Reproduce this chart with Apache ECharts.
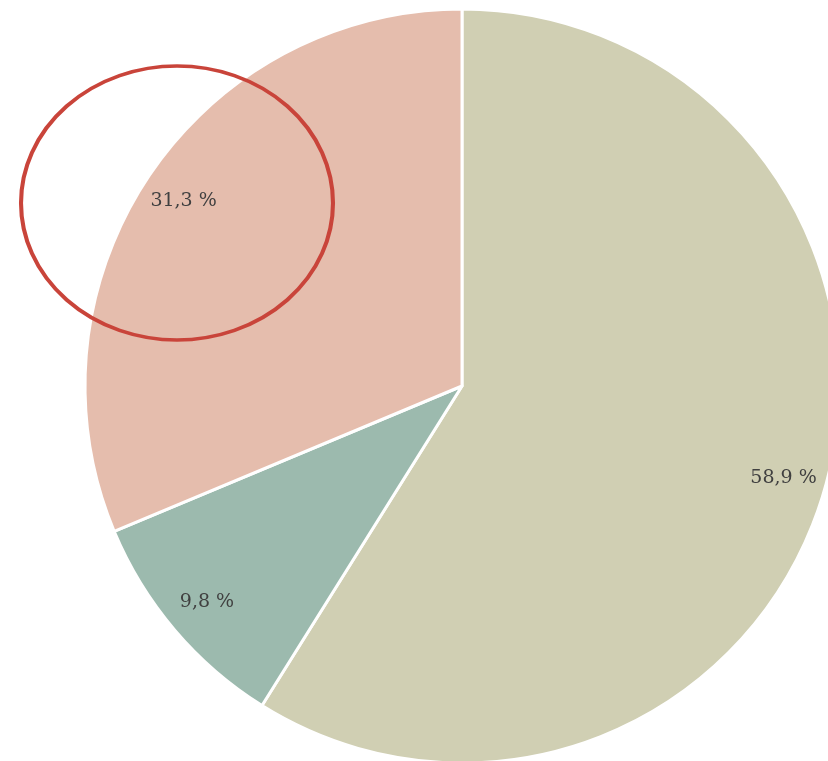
<!DOCTYPE html>
<html>
<head>
<meta charset="utf-8">
<script src="https://cdn.jsdelivr.net/npm/echarts@6/dist/echarts.min.js"></script>
<style>
  html, body { margin: 0; padding: 0; background: #fff; }
  #main { width: 828px; height: 761px; }
</style>
</head>
<body>
<div id="main"></div>
<script>
// slice data, clockwise from 12 o'clock
var sliceNames = ['A', 'B', 'C'];
var sliceValues = [58.9, 9.8, 31.3];
var sliceLabels = ['58,9 %', '9,8 %', '31,3 %'];
var sliceColors = ['#d0cfb3', '#9cbaae', '#e5bdad'];

var chart = echarts.init(document.getElementById('main'));

var pieData = sliceValues.map(function (v, i) {
  return { name: sliceNames[i], value: v, itemStyle: { color: sliceColors[i] } };
});
var labelData = sliceValues.map(function (v, i) {
  return { name: sliceNames[i], value: v, label: { formatter: sliceLabels[i] } };
});

var option = {
  backgroundColor: '#ffffff',
  animation: false,
  series: [
    {
      type: 'pie',
      center: [462, 386],
      radius: [0, 377],
      startAngle: 90,
      clockwise: true,
      silent: true,
      itemStyle: { borderColor: '#ffffff', borderWidth: 3 },
      label: { show: false },
      labelLine: { show: false },
      data: pieData
    },
    {
      // transparent ring only used to put labels near the rim
      type: 'pie',
      center: [462, 386],
      radius: [286, 377],
      startAngle: 90,
      clockwise: true,
      silent: true,
      itemStyle: { color: 'rgba(0,0,0,0)' },
      label: {
        show: true,
        position: 'inside',
        color: '#404040',
        fontFamily: 'DejaVu Serif',
        fontSize: 19
      },
      labelLine: { show: false },
      data: labelData
    }
  ],
  graphic: [
    {
      type: 'circle',
      x: 177,
      y: 203,
      scaleX: 156 / 137,
      scaleY: 1,
      shape: { cx: 0, cy: 0, r: 137 },
      style: { fill: 'none', stroke: '#c9443a', lineWidth: 3.6 },
      z: 100
    }
  ]
};

chart.setOption(option);
</script>
</body>
</html>
